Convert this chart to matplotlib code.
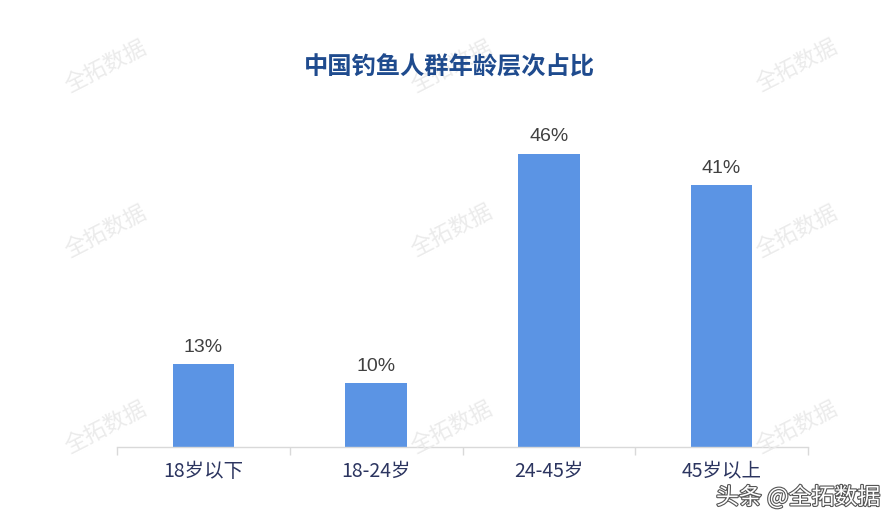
import matplotlib
matplotlib.use("Agg")
import matplotlib.pyplot as plt
import matplotlib.patheffects as pe

categories = ["18岁以下", "18-24岁", "24-45岁", "45岁以上"]
values = [13, 10, 46, 41]
title = "中国钓鱼人群年龄层次占比"
watermark = "全拓数据"
credit = "头条 @全拓数据"

plt.rcParams['font.family'] = ['Noto Sans CJK SC', 'DejaVu Sans']

fig = plt.figure(figsize=(8.96, 5.23), dpi=100)
fig.patch.set_facecolor("white")

# watermarks (figure coordinates)
W, H = 896, 523
for (px, py) in [(106, 67), (452, 67), (797, 66),
                 (106, 232), (452, 231), (797, 232),
                 (106, 428), (452, 428), (797, 428)]:
    fig.text(px / W, 1 - py / H, watermark, fontsize=16, color="#ebebeb",
             rotation=27, ha="center", va="center", fontweight="medium", zorder=0)

ax = fig.add_axes([117 / W, 1 - 447 / H, (808 - 117) / W, 319 / H])
ax.set_facecolor("none")
x = list(range(len(categories)))
bars = ax.bar(x, values, width=0.355, color="#5b94e4", zorder=2)
ax.set_xlim(-0.5, len(categories) - 0.5)
ax.set_ylim(0, 50)

for xi, v in zip(x, values):
    ax.annotate(f"{v}%", (xi, v), xytext=(0, 6), textcoords="offset points",
                ha="center", va="bottom", fontsize=14, color="#404040",
                family=["Liberation Sans", "DejaVu Sans"])

for s in ["top", "right", "left"]:
    ax.spines[s].set_visible(False)
ax.spines["bottom"].set_color("#d9d9d9")
ax.spines["bottom"].set_linewidth(1.0)
ax.set_yticks([])

ax.set_xticks(x)
ax.set_xticklabels(categories, fontsize=14, color="#2c3560")
ax.tick_params(axis="x", which="major", length=0, pad=10)
ax.set_xticks([i - 0.5 for i in range(len(categories) + 1)], minor=True)
ax.tick_params(axis="x", which="minor", length=6, color="#d9d9d9", width=1.0)

fig.text(449 / W, 1 - 68 / H, title, fontsize=17.5, fontweight="bold",
         color="#1f4b8e", ha="center", va="center")

fig.text(798 / W, 1 - 497 / H, credit, fontsize=16.5, color="white",
         ha="center", va="center",
         path_effects=[pe.withStroke(linewidth=1.6, foreground="#555555")])

fig.savefig("out.png", dpi=100, facecolor="white")
